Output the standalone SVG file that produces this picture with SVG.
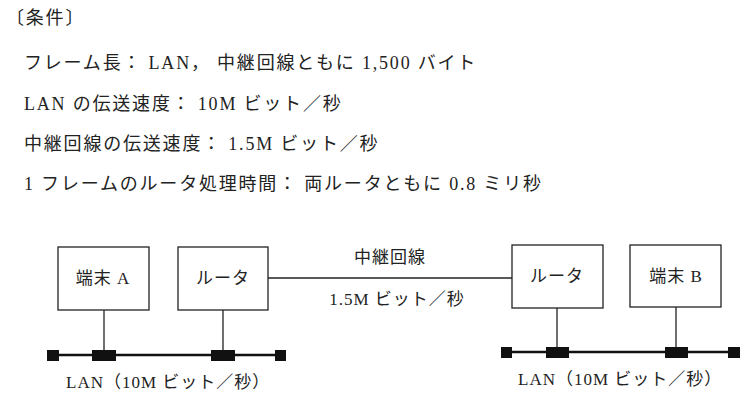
<svg xmlns="http://www.w3.org/2000/svg" width="755" height="403" viewBox="0 0 755 403">
<style>
text{font-family:"Liberation Serif","Noto Sans CJK JP",serif;font-size:17px;fill:#222;letter-spacing:1px}
.t{font-size:18px;letter-spacing:1.8px}
.b{fill:#fff;stroke:#222;stroke-width:1.3}
.l{stroke:#222;stroke-width:1.3;fill:none}
.bus{stroke:#111;stroke-width:2.5}
.s{fill:#111}
</style>
<rect width="755" height="403" fill="#fff"/>
<text class="t" x="6" y="24">〔条件〕</text>
<text class="t" x="24" y="69">フレーム長： LAN， 中継回線ともに 1,500 バイト</text>
<text class="t" x="24" y="110">LAN の伝送速度： 10M ビット／秒</text>
<text class="t" x="24" y="150">中継回線の伝送速度： 1.5M ビット／秒</text>
<text class="t" x="24" y="190">1 フレームのルータ処理時間： 両ルータともに 0.8 ミリ秒</text>
<g id="connectors">
<line class="l" x1="268" y1="278" x2="512" y2="278"/>
<line class="l" x1="104" y1="310" x2="104" y2="355"/>
<line class="l" x1="223" y1="310" x2="223" y2="355"/>
<line class="l" x1="557" y1="308" x2="557" y2="352"/>
<line class="l" x1="676" y1="307" x2="676" y2="352"/>
<line class="bus" x1="53" y1="355" x2="281" y2="355"/>
<line class="bus" x1="507" y1="352" x2="734" y2="352"/>
<rect class="s" x="47" y="350" width="12" height="11"/>
<rect class="s" x="92" y="350" width="24" height="11"/>
<rect class="s" x="211" y="350" width="24" height="11"/>
<rect class="s" x="275" y="350" width="11" height="11"/>
<rect class="s" x="501" y="347" width="11" height="11"/>
<rect class="s" x="546" y="347" width="23" height="11"/>
<rect class="s" x="665" y="347" width="23" height="11"/>
<rect class="s" x="728" y="347" width="12" height="11"/>
</g>
<g id="termA"><rect class="b" x="58" y="247" width="91" height="63"/><text x="103" y="284" text-anchor="middle">端末 A</text></g>
<g id="routerL"><rect class="b" x="178" y="247" width="90" height="63"/><text x="223" y="284" text-anchor="middle">ルータ</text></g>
<g id="routerR"><rect class="b" x="512" y="245" width="91" height="63"/><text x="557" y="282" text-anchor="middle">ルータ</text></g>
<g id="termB"><rect class="b" x="630" y="245" width="91" height="62"/><text x="676" y="282" text-anchor="middle">端末 B</text></g>
<text x="390" y="263" text-anchor="middle">中継回線</text>
<text x="397" y="305" text-anchor="middle">1.5M ビット／秒</text>
<text x="66" y="388">LAN（10M ビット／秒）</text>
<text x="518" y="385">LAN（10M ビット／秒）</text>
</svg>
